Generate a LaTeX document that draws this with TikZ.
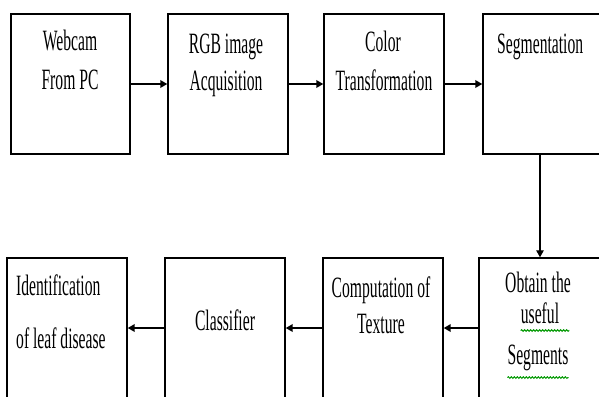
\documentclass[tikz,border=0pt]{standalone}
\usepackage{fontspec}
\setmainfont[FakeStretch=0.53]{Liberation Serif}
\usetikzlibrary{arrows.meta,decorations.pathmorphing}
\begin{document}
\begin{tikzpicture}[x=1pt,y=-1pt,
  box/.style={draw,line width=1.4pt,inner sep=0pt,minimum width=120pt,minimum height=140pt},
  lbl/.style={anchor=base,inner sep=0pt,font=\fontsize{29.5}{32}\selectfont},
  lbll/.style={anchor=base west,inner sep=0pt,font=\fontsize{29.5}{32}\selectfont},
  arr/.style={line width=2pt,-{Triangle[length=7pt,width=7.5pt]}},
  spell/.style={draw=green!60!black,line width=1pt,decorate,decoration={snake,amplitude=0.8pt,segment length=3pt}}]
\clip (0,0) rectangle (599,396);
\fill[white] (0,0) rectangle (599,396);
% boxes
\node[box,minimum width=119pt] (b1) at (70.5,84) {};
\node[box] (b2) at (228,84) {};
\node[box] (b3) at (384,84) {};
\node[box,minimum width=124pt] (b4) at (545,84) {};
\node[box,minimum width=126pt] (b5) at (542,328) {};
\node[box] (b6) at (383,328) {};
\node[box] (b7) at (225,328) {};
\node[box] (b8) at (67,328) {};
% connectors
\coordinate (v) at (540,0);
\draw[arr] (b1) -- (b2);
\draw[arr] (b2) -- (b3);
\draw[arr] (b3) -- (b4);
\draw[arr,line width=1.1pt] (b4.south -| v) -- (b5.north -| v);
\draw[arr] (b5) -- (b6);
\draw[arr] (b6) -- (b7);
\draw[arr] (b7) -- (b8);
% texts
\node[lbl] (t1a) at (70,51) {Webcam};
\node[lbl] (t1b) at (70,89) {From PC};
\node[lbl] (t2a) at (226,53) {RGB image};
\node[lbl] (t2b) at (226,90) {Acquisition};
\node[lbl] (t3a) at (383,52) {Color};
\node[lbl] (t3b) at (384,90) {Transformation};
\node[lbll] (t4) at (497,53) {Segmentation};
\node[lbl] (t5a) at (538,292) {Obtain the};
\node[lbl] (t5b) at (540,323) {useful};
\node[lbl] (t5c) at (538,364) {Segments};
\node[lbl] (t6a) at (381,297) {Computation of};
\node[lbl] (t6b) at (381,333) {Texture};
\node[lbl] (t7) at (225,330) {Classifier};
\node[lbll] (t8a) at (16,295) {Identification};
\node[lbll] (t8b) at (16,348) {of leaf disease};
% spelling marks
\draw[spell] ([yshift=-7pt]t5b.south west) -- ([xshift=10pt,yshift=-7pt]t5b.south east);
\draw[spell] ([yshift=-7pt]t5c.south west) -- ([yshift=-7pt]t5c.south east);
\end{tikzpicture}
\end{document}
